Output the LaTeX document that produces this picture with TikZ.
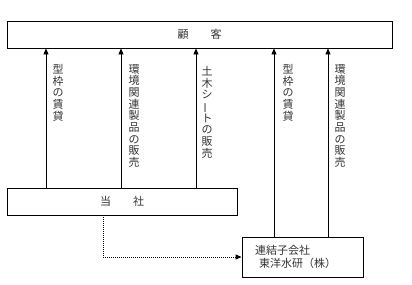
\documentclass[tikz,border=0pt]{standalone}
\usepackage{fontspec}
\usepackage{graphicx}
\newfontfamily\jp{Noto Sans CJK JP}
\usetikzlibrary{arrows.meta, positioning}

\begin{document}
\begin{tikzpicture}[
    x=1pt, y=-1pt,
    box/.style={
        draw=black,
        fill=white,
        inner sep=0pt,
        line width=0.9pt,
        font=\jp\fontsize{11}{12.5}\selectfont,
        text=black!80
    },
    lbl/.style={
        anchor=north,
        align=center,
        inner sep=0pt,
        font=\jp\fontsize{11}{11.7}\selectfont,
        text=black!80
    },
    arrow/.style={
        -{Triangle[length=6pt,width=5pt]},
        line width=0.9pt,
        draw=black
    },
    link/.style={
        -{Triangle[length=6pt,width=5pt]},
        line width=0.9pt,
        dash pattern=on 1pt off 1pt,
        draw=black
    }
]
\useasboundingbox (0,0) rectangle (412,284);

% Nodes
\node (cust) [box, minimum width=385pt, minimum height=27pt] at (199.5,34.5) {顧　　客};
\node (co) [box, minimum width=230pt, minimum height=27pt] at (122,201.5) {当　　社};
\node (sub) [box, minimum width=121pt, minimum height=40pt, text width=95pt,
    inner xsep=13pt, align=left] at (302.5,257) {連結子会社\\\hspace*{4pt}東洋水研（株）};

% Labels
\node (l1) [lbl] at (58,64) {型\\枠\\の\\賃\\貸};
\node (l2) [lbl] at (134,64) {環\\境\\関\\連\\製\\品\\の\\販\\売};
\node (l3) [lbl] at (207,66) {土\\木\\シ\\\rotatebox[origin=c]{90}{ー}\\ト\\の\\販\\売};
\node (l4) [lbl] at (288,64) {型\\枠\\の\\賃\\貸};
\node (l5) [lbl] at (340,64) {環\\境\\関\\連\\製\\品\\の\\販\\売};

% Paths
\foreach \x in {46,121,196}
    \draw [arrow] (co.north -| \x,0) -- (cust.south -| \x,0);
\foreach \x in {274,328}
    \draw [arrow] (sub.north -| \x,0) -- (cust.south -| \x,0);
\draw [link] (co.south -| 103,0) |- (sub.west);

\end{tikzpicture}
\end{document}
